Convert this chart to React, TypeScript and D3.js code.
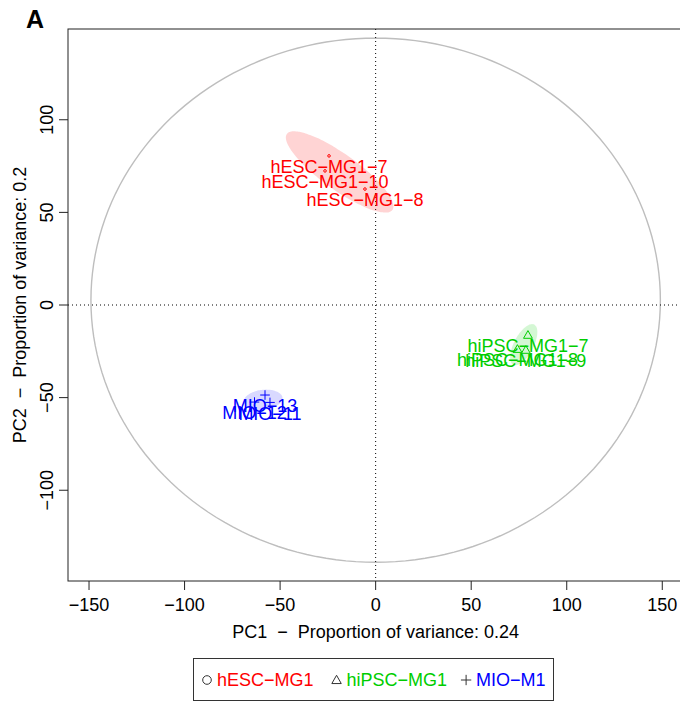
import { useEffect, useRef } from 'react'
import * as d3 from 'd3'

// Groups, colours and symbols (legend order)
const groups = ['hESC-MG1', 'hiPSC-MG1', 'MIO-M1']
const groupColors = ['#FF0000', '#00CD00', '#0000FF']
const groupFills = ['rgba(255,0,0,0.17)', 'rgba(0,205,0,0.17)', 'rgba(0,0,255,0.15)']
const groupSymbols = ['circle', 'triangle', 'cross']

// Samples with their PCA scores
const sampleNames = [
  'hESC-MG1-7',
  'hESC-MG1-10',
  'hESC-MG1-8',
  'hiPSC-MG1-7',
  'hiPSC-MG1-8',
  'hiPSC-MG1-9',
  'MIO-13',
  'MIO-12',
  'MIO-11',
]
const sampleGroup = [0, 0, 0, 1, 1, 1, 2, 2, 2]
const pc1 = [-24.4, -26.5, -5.6, 79.7, 74.2, 78.6, -57.9, -63.4, -55.3]
const pc2 = [80.5, 72.4, 62.6, -16.2, -23.8, -24.3, -48.6, -52.4, -52.6]

// Axes
const xTicks = [-150, -100, -50, 0, 50, 100, 150]
const yTicks = [-100, -50, 0, 50, 100]
const xTitle = 'PC1  \u2212  Proportion of variance: 0.24'
const yTitle = 'PC2  \u2212  Proportion of variance: 0.2'
const circleCenter = [0, 2.6]
const circleRadius = [149, 141.5]

const W = 680
const H = 704
const FONT = '"Liberation Sans", Arial, Helvetica, sans-serif'
const FS = '18px'
const minus = (s: string) => s.replace(/-/g, '\u2212')

const App = () => {
  const svgRef = useRef<SVGSVGElement | null>(null)

  useEffect(() => {
    const svg = d3.select(svgRef.current)
    svg.selectAll('*').remove()

    const x = d3.scaleLinear().domain([-161, 161]).range([68, 683.3])
    const y = d3.scaleLinear().domain([-149, 149]).range([581, 29])
    const [x0, x1] = x.range()
    const [y0, y1] = y.range()

    svg
      .append('defs')
      .append('clipPath')
      .attr('id', 'plot-clip')
      .append('rect')
      .attr('x', x0)
      .attr('y', y1)
      .attr('width', x1 - x0)
      .attr('height', y0 - y1)
    const plot = svg.append('g').attr('clip-path', 'url(#plot-clip)')

    // Big reference circle
    const circlePts = d3.range(0, 361, 2).map((a) => {
      const t = (a * Math.PI) / 180
      return [
        x(circleCenter[0] + circleRadius[0] * Math.cos(t)),
        y(circleCenter[1] + circleRadius[1] * Math.sin(t)),
      ] as [number, number]
    })
    plot
      .append('path')
      .attr('d', d3.line()(circlePts) + 'Z')
      .attr('fill', 'none')
      .attr('stroke', '#BEBEBE')
      .attr('stroke-width', 1.4)

    // Dotted zero lines
    plot
      .append('line')
      .attr('x1', x(0))
      .attr('x2', x(0))
      .attr('y1', y1)
      .attr('y2', y0)
      .attr('stroke', '#000')
      .attr('stroke-dasharray', '1,3')
    plot
      .append('line')
      .attr('x1', x0)
      .attr('x2', x1)
      .attr('y1', y(0))
      .attr('y2', y(0))
      .attr('stroke', '#000')
      .attr('stroke-dasharray', '1,3')

    // Confidence ellipses from each group's covariance
    const k = Math.sqrt(5.991)
    groups.forEach((g, gi) => {
      const idx = sampleGroup.map((s, i) => (s === gi ? i : -1)).filter((i) => i >= 0)
      const xs = idx.map((i) => pc1[i])
      const ys = idx.map((i) => pc2[i])
      const mx = d3.mean(xs) as number
      const my = d3.mean(ys) as number
      const n = xs.length
      const a = d3.sum(xs, (v) => (v - mx) ** 2) / (n - 1)
      const c = d3.sum(ys, (v) => (v - my) ** 2) / (n - 1)
      const b = d3.sum(xs, (v, j) => (v - mx) * (ys[j] - my)) / (n - 1)
      const half = Math.sqrt(((a - c) / 2) ** 2 + b * b)
      const l1 = (a + c) / 2 + half
      const l2 = Math.max((a + c) / 2 - half, 0)
      const th = 0.5 * Math.atan2(2 * b, a - c)
      const pts = d3.range(0, 360, 3).map((deg) => {
        const t = (deg * Math.PI) / 180
        const u = k * Math.sqrt(l1) * Math.cos(t)
        const v = k * Math.sqrt(l2) * Math.sin(t)
        return [
          x(mx + u * Math.cos(th) - v * Math.sin(th)),
          y(my + u * Math.sin(th) + v * Math.cos(th)),
        ] as [number, number]
      })
      plot
        .append('path')
        .attr('d', d3.line().curve(d3.curveCardinalClosed)(pts))
        .attr('fill', groupFills[gi])
        .attr('stroke', 'none')
    })

    const drawSymbol = (sel: any, kind: string, cx: number, cy: number, color: string, r = 4) => {
      if (kind === 'circle') {
        sel
          .append('circle')
          .attr('cx', cx)
          .attr('cy', cy)
          .attr('r', r)
          .attr('fill', 'none')
          .attr('stroke', color)
          .attr('stroke-width', 1)
      } else if (kind === 'triangle') {
        const h = r * 1.1
        sel
          .append('path')
          .attr('d', `M${cx},${cy - h}L${cx + h},${cy + h * 0.75}L${cx - h},${cy + h * 0.75}Z`)
          .attr('fill', 'none')
          .attr('stroke', color)
          .attr('stroke-width', 1)
      } else {
        const h = r * 1.2
        sel
          .append('path')
          .attr('d', `M${cx - h},${cy}H${cx + h}M${cx},${cy - h}V${cy + h}`)
          .attr('fill', 'none')
          .attr('stroke', color)
          .attr('stroke-width', 1)
      }
    }

    // Sample points
    sampleNames.forEach((name, i) => {
      const gi = sampleGroup[i]
      drawSymbol(plot, groupSymbols[gi], x(pc1[i]), y(pc2[i]), groupColors[gi], gi === 0 ? 1.3 : 4)
    })
    // Sample labels (below each point)
    sampleNames.forEach((name, i) => {
      const gi = sampleGroup[i]
      plot
        .append('text')
        .attr('x', x(pc1[i]))
        .attr('y', y(pc2[i]) + 11)
        .attr('dy', '0.35em')
        .attr('text-anchor', 'middle')
        .style('font-family', FONT)
        .style('font-size', FS)
        .style('fill', groupColors[gi])
        .text(minus(name))
    })

    // Plot box
    svg
      .append('rect')
      .attr('x', x0)
      .attr('y', y1)
      .attr('width', x1 - x0)
      .attr('height', y0 - y1)
      .attr('fill', 'none')
      .attr('stroke', '#222')
      .attr('stroke-width', 1)

    // X axis
    const xa = svg.append('g')
    xTicks.forEach((t) => {
      xa.append('line')
        .attr('x1', x(t))
        .attr('x2', x(t))
        .attr('y1', y0)
        .attr('y2', y0 + 9)
        .attr('stroke', '#222')
      xa.append('text')
        .attr('x', x(t))
        .attr('y', 611)
        .attr('text-anchor', 'middle')
        .style('font-family', FONT)
        .style('font-size', FS)
        .style('fill', '#000')
        .text(minus(String(t)))
    })
    svg
      .append('text')
      .attr('x', x(0))
      .attr('y', 638)
      .attr('text-anchor', 'middle')
      .style('font-family', FONT)
      .style('font-size', FS)
      .style('white-space', 'pre')
      .text(xTitle)

    // Y axis
    const ya = svg.append('g')
    yTicks.forEach((t) => {
      ya.append('line')
        .attr('x1', x0 - 9)
        .attr('x2', x0)
        .attr('y1', y(t))
        .attr('y2', y(t))
        .attr('stroke', '#222')
      ya.append('text')
        .attr('transform', `translate(53,${y(t)}) rotate(-90)`)
        .attr('text-anchor', 'middle')
        .style('font-family', FONT)
        .style('font-size', FS)
        .text(minus(String(t)))
    })
    svg
      .append('text')
      .attr('transform', `translate(26,${(y0 + y1) / 2}) rotate(-90)`)
      .attr('text-anchor', 'middle')
      .style('font-family', FONT)
      .style('font-size', FS)
      .style('white-space', 'pre')
      .text(yTitle)

    // Panel letter
    svg
      .append('text')
      .attr('x', 26)
      .attr('y', 28)
      .style('font-family', FONT)
      .style('font-size', '25px')
      .style('font-weight', 'bold')
      .text('A')

    // Legend
    const leg = svg.append('g')
    leg
      .append('rect')
      .attr('x', 193.5)
      .attr('y', 658.5)
      .attr('width', 360)
      .attr('height', 42)
      .attr('fill', '#fff')
      .attr('stroke', '#333')
    const texts = groups.map((g, gi) =>
      leg
        .append('text')
        .attr('y', 680)
        .attr('dy', '0.35em')
        .style('font-family', FONT)
        .style('font-size', FS)
        .style('fill', groupColors[gi])
        .text(minus(g))
    )
    const maxW = d3.max(texts, (t) => (t.node() as SVGTextElement).getComputedTextLength()) || 105
    const step = maxW + 29
    groups.forEach((g, gi) => {
      const sx = 207 + gi * step
      drawSymbol(leg, groupSymbols[gi], sx, 680, '#333', 4.3)
      texts[gi].attr('x', sx + 10)
    })
  }, [])

  return (
    <svg
      ref={svgRef}
      width={W}
      height={H}
      style={{ position: 'absolute', left: 0, top: 0, background: '#fff' }}
    />
  )
}

export default App
